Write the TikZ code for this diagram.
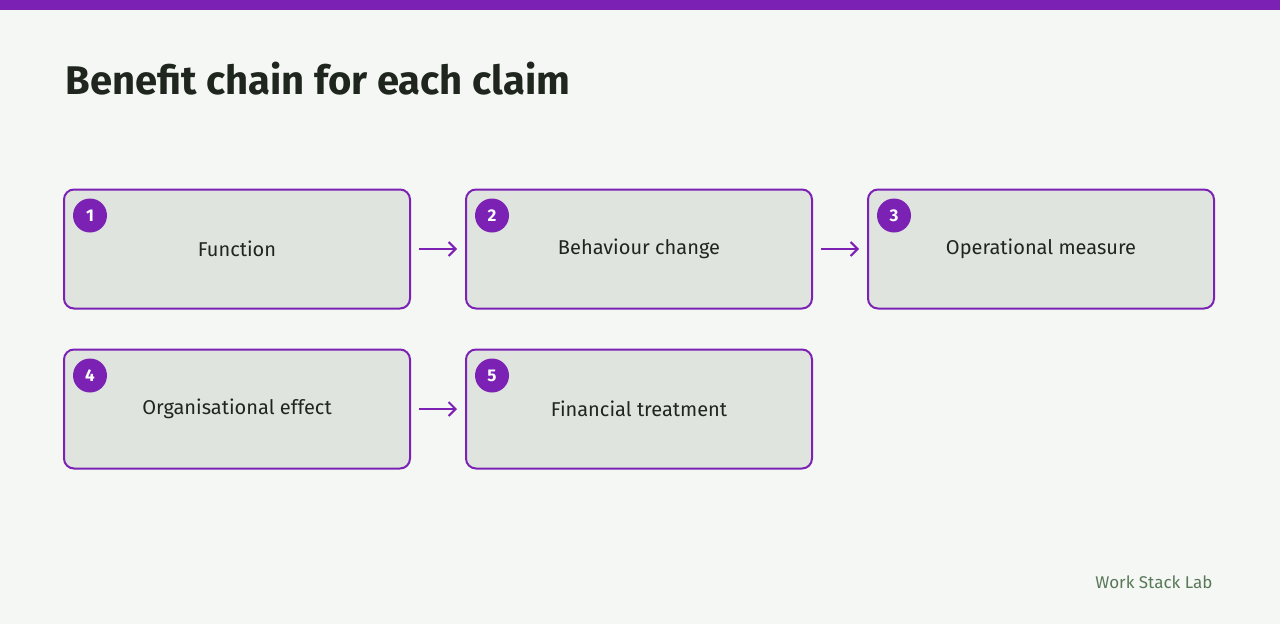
\documentclass[tikz,border=0pt]{standalone}
\usepackage{fontspec}
\setmainfont{Fira Sans}
\begin{document}
\begin{tikzpicture}[x=1pt,y=-1pt,
  box/.style={draw=pur,line width=2pt,fill=boxf,rounded corners=10pt,minimum width=346pt,minimum height=119pt,font=\fontsize{20}{24}\selectfont,text=ink},
  num/.style={circle,fill=pur,minimum size=34pt,inner sep=0pt,text=white,font=\fontsize{17}{20}\selectfont\bfseries},
  arr/.style={->,draw=pur,line width=2pt,>={Straight Barb[length=7pt,width=14pt]}}]
\usetikzlibrary{arrows.meta}
\definecolor{pur}{HTML}{7B22B5}
\definecolor{boxf}{HTML}{E0E4DE}
\definecolor{bg}{HTML}{F5F7F4}
\definecolor{ink}{HTML}{1E261E}
\fill[bg] (0,0) rectangle (1280,624);
\fill[pur] (0,0) rectangle (1280,10);
\node[anchor=west,text=ink,font=\fontsize{40}{46}\selectfont\bfseries] (title) at (62,79) {Benefit chain for each claim};
\node[box] (b1) at (237,249) {Function};
\node[box] (b2) at (639,249) {Behaviour change};
\node[box] (b3) at (1041,249) {Operational measure};
\node[box] (b4) at (237,409) {Organisational effect};
\node[box] (b5) at (639,409) {Financial treatment};
\foreach \i in {1,...,5}{\node[num] (n\i) at ([xshift=27pt,yshift=-27pt]b\i.north west) {\i};}
\draw[arr] (b1.east) ++(8,0) coordinate (a1s) -- ([xshift=-8pt]b2.west);
\draw[arr] ([xshift=8pt]b2.east) -- ([xshift=-8pt]b3.west);
\draw[arr] ([xshift=8pt]b4.east) -- ([xshift=-8pt]b5.west);
\node[anchor=east,text=black!60!green!30!gray,font=\fontsize{17}{20}\selectfont] (foot) at (1216,582) {Work Stack Lab};
\end{tikzpicture}
\end{document}
